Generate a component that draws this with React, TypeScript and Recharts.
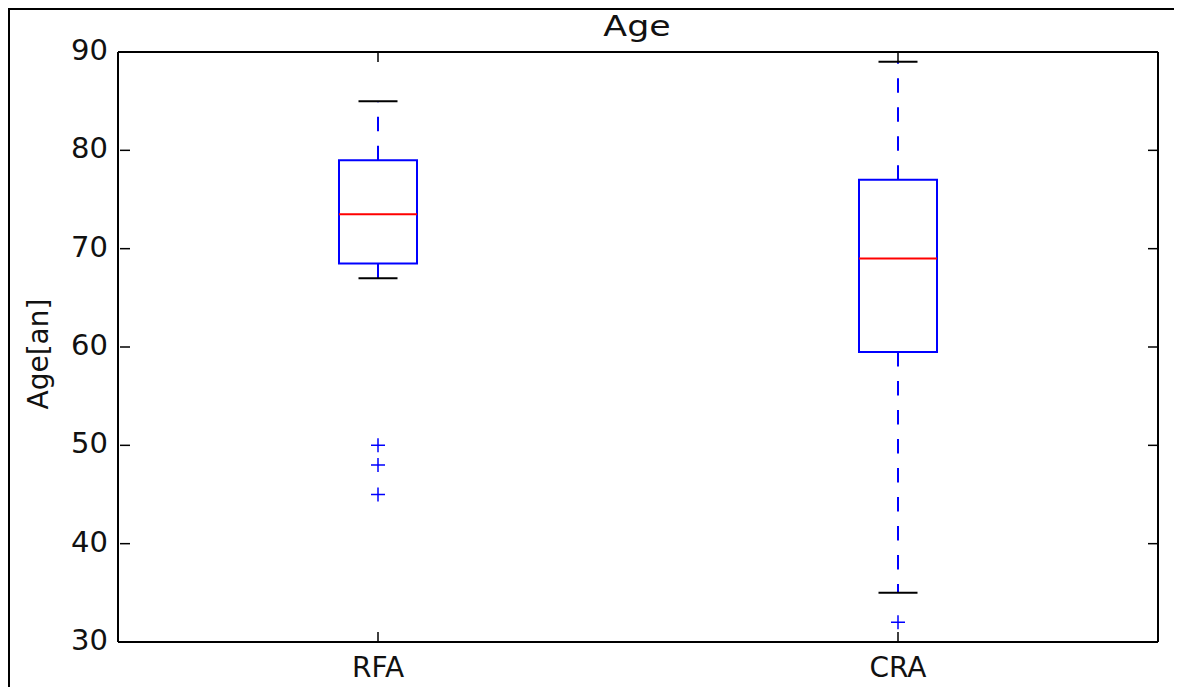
import React from 'react';
import {
  ComposedChart,
  XAxis,
  YAxis,
  Scatter,
  ReferenceArea,
  ReferenceLine,
} from 'recharts';

const categories = ['RFA', 'CRA'];
const positions = [1, 2];
const whiskerLow = [67, 35];
const q1 = [68.5, 59.5];
const median = [73.5, 69];
const q3 = [79, 77];
const whiskerHigh = [85, 89];
const outliers = [[50, 48, 45], [32]];
const yTicks = [30, 40, 50, 60, 70, 80, 90];

const BOX_HALF = 0.075;
const CAP_HALF = 0.0375;
const BLUE = '#0000ff';
const RED = '#ff0000';
const FONT = 'DejaVu Sans';
const TEXT = '#111';

const outlierData = outliers.flatMap((vals, i) =>
  vals.map((v) => ({ x: positions[i], y: v }))
);

const LeftTick = (props: any) => {
  const { x, y, payload } = props;
  return (
    <g>
      <line x1={x + 12} x2={x + 22} y1={y} y2={y} stroke="#000" strokeWidth={1.5} />
      <text x={x} y={y} dy={8} textAnchor="end" fontSize={29} fontFamily={FONT} fill={TEXT}>
        {payload.value}
      </text>
    </g>
  );
};

const RightTick = (props: any) => {
  const { x, y } = props;
  return <line x1={x} x2={x - 10} y1={y} y2={y} stroke="#000" strokeWidth={1.5} />;
};

const BottomTick = (props: any) => {
  const { x, y, payload } = props;
  const idx = positions.indexOf(payload.value);
  return (
    <g>
      <line x1={x} x2={x} y1={y} y2={y - 10} stroke="#000" strokeWidth={1.5} />
      <text x={x} y={y + 35} textAnchor="middle" fontSize={28} fontFamily={FONT} fill={TEXT}>
        {idx >= 0 ? categories[idx] : ''}
      </text>
    </g>
  );
};

const TopTick = (props: any) => {
  const { x, y } = props;
  return <line x1={x} x2={x} y1={y} y2={y + 10} stroke="#000" strokeWidth={1.5} />;
};

const Plus = (props: any) => {
  const { cx, cy } = props;
  if (cx == null || cy == null) return null;
  const s = 7;
  return (
    <path
      d={`M${cx - s},${cy}H${cx + s}M${cx},${cy - s}V${cy + s}`}
      stroke={BLUE}
      strokeWidth={1.5}
      fill="none"
    />
  );
};

const Nothing = () => <g />;

export default function App() {
  const W = 1172;
  const H = 677;
  return (
    <>
      <style>{'html,body{overflow:hidden}'}</style>
      <div
        style={{
          position: 'relative',
          width: W,
          height: H,
          borderLeft: '2px solid #000',
          borderTop: '2px solid #000',
          background: '#fff',
          fontFamily: FONT,
        }}
      >
        <ComposedChart
          width={W}
          height={H}
          data={outlierData}
          margin={{ top: 41, right: 23, bottom: 5, left: 48 }}
        >
          <XAxis
            xAxisId={0}
            dataKey="x"
            type="number"
            domain={[0.5, 2.5]}
            ticks={positions}
            interval={0}
            allowDataOverflow
            height={40}
            tickSize={0}
            tickMargin={0}
            tick={<BottomTick />}
            axisLine={{ stroke: '#000', strokeWidth: 2 }}
            tickLine={false}
          />
          <XAxis
            xAxisId="top"
            dataKey="x"
            orientation="top"
            type="number"
            domain={[0.5, 2.5]}
            ticks={positions}
            interval={0}
            allowDataOverflow
            height={1}
            tickSize={0}
            tickMargin={0}
            tick={<TopTick />}
            axisLine={{ stroke: '#000', strokeWidth: 2 }}
            tickLine={false}
          />
          <YAxis
            yAxisId={0}
            type="number"
            domain={[30, 90]}
            ticks={yTicks}
            interval={0}
            allowDataOverflow
            width={60}
            tickSize={0}
            tickMargin={10}
            tick={<LeftTick />}
            axisLine={{ stroke: '#000', strokeWidth: 2 }}
            tickLine={false}
          />
          <YAxis
            yAxisId="right"
            orientation="right"
            type="number"
            domain={[30, 90]}
            ticks={yTicks}
            interval={0}
            allowDataOverflow
            width={1}
            tickSize={0}
            tickMargin={0}
            tick={<RightTick />}
            axisLine={{ stroke: '#000', strokeWidth: 2 }}
            tickLine={false}
          />
          {positions.map((p, i) => (
            <ReferenceArea
              key={`box-${i}`}
              x1={p - BOX_HALF}
              x2={p + BOX_HALF}
              y1={q1[i]}
              y2={q3[i]}
              stroke={BLUE}
              strokeWidth={2}
              fill="none"
              fillOpacity={0}
            />
          ))}
          {positions.map((p, i) => (
            <ReferenceLine
              key={`wu-${i}`}
              segment={[
                { x: p, y: q3[i] },
                { x: p, y: whiskerHigh[i] },
              ]}
              stroke={BLUE}
              strokeWidth={2}
              strokeDasharray="14.5 14.5"
            />
          ))}
          {positions.map((p, i) => (
            <ReferenceLine
              key={`wl-${i}`}
              segment={[
                { x: p, y: q1[i] },
                { x: p, y: whiskerLow[i] },
              ]}
              stroke={BLUE}
              strokeWidth={2}
              strokeDasharray="14.5 14.5"
            />
          ))}
          {positions.map((p, i) => (
            <ReferenceLine
              key={`cu-${i}`}
              segment={[
                { x: p - CAP_HALF, y: whiskerHigh[i] },
                { x: p + CAP_HALF, y: whiskerHigh[i] },
              ]}
              stroke="#000"
              strokeWidth={2}
            />
          ))}
          {positions.map((p, i) => (
            <ReferenceLine
              key={`cl-${i}`}
              segment={[
                { x: p - CAP_HALF, y: whiskerLow[i] },
                { x: p + CAP_HALF, y: whiskerLow[i] },
              ]}
              stroke="#000"
              strokeWidth={2}
            />
          ))}
          {positions.map((p, i) => (
            <ReferenceLine
              key={`med-${i}`}
              segment={[
                { x: p - BOX_HALF, y: median[i] },
                { x: p + BOX_HALF, y: median[i] },
              ]}
              stroke={RED}
              strokeWidth={2}
            />
          ))}
          <Scatter
            data={outlierData}
            dataKey="y"
            shape={<Plus />}
            isAnimationActive={false}
          />
          <Scatter
            data={outlierData}
            dataKey="y"
            xAxisId="top"
            yAxisId="right"
            shape={<Nothing />}
            isAnimationActive={false}
          />
        </ComposedChart>
        <svg
          width={W}
          height={H}
          style={{ position: 'absolute', left: 0, top: 0, pointerEvents: 'none' }}
        >
          <text
            transform="translate(627,26) scale(1.2,1)"
            textAnchor="middle"
            fontSize={29}
            fontFamily={FONT}
            fill={TEXT}
          >
            Age
          </text>
          <text
            transform="translate(38,344) rotate(-90)"
            textAnchor="middle"
            fontSize={28}
            fontFamily={FONT}
            fill={TEXT}
          >
            Age[an]
          </text>
        </svg>
      </div>
    </>
  );
}
